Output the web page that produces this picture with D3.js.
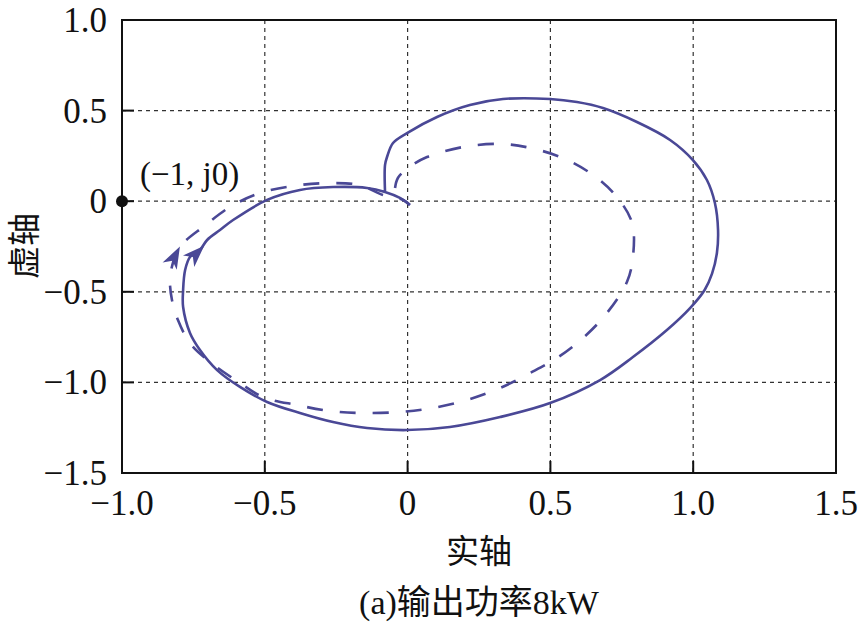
<!DOCTYPE html>
<html>
<head>
<meta charset="utf-8">
<script src="https://cdn.jsdelivr.net/npm/d3@7"></script>
<style>
  html, body { margin: 0; padding: 0; background: #fff; }
  svg { display: block; }
  .tick-label { font-family: "Times New Roman", "Liberation Serif", "Noto Sans CJK SC", serif; font-size: 35px; fill: #111; }
  .cjk { font-family: "Times New Roman", "Liberation Serif", "Noto Sans CJK SC", serif; fill: #111; }
</style>
</head>
<body>
<div id="chart"></div>
<script>
// tick values
const xTicks = [-1.0, -0.5, 0, 0.5, 1.0, 1.5];
const yTicks = [1.0, 0.5, 0, -0.5, -1.0, -1.5];
const xTickLabels = ['\u22121.0', '\u22120.5', '0', '0.5', '1.0', '1.5'];
const yTickLabels = ['1.0', '0.5', '0', '\u22120.5', '\u22121.0', '\u22121.5'];

const solidRe = [-0.079, -0.079, -0.072, -0.051, -0.002, 0.103, 0.218, 0.334, 0.499, 0.593, 0.684, 0.803, 0.919, 0.999, 1.048, 1.076, 1.087, 1.083, 1.066, 1.040, 0.989, 0.908, 0.789, 0.674, 0.499, 0.324, 0.148, -0.002, -0.142, -0.261, -0.377, -0.492, -0.587, -0.667, -0.727, -0.762, -0.786, -0.786, -0.779, -0.762, -0.727, -0.702, -0.657, -0.611, -0.492, -0.377, -0.261, -0.142, -0.079, -0.027, 0.008];
const solidIm = [0.051, 0.200, 0.244, 0.321, 0.376, 0.465, 0.531, 0.564, 0.564, 0.547, 0.514, 0.437, 0.338, 0.227, 0.117, -0.010, -0.159, -0.286, -0.400, -0.490, -0.590, -0.711, -0.860, -0.987, -1.114, -1.191, -1.246, -1.263, -1.252, -1.219, -1.169, -1.108, -1.025, -0.932, -0.821, -0.727, -0.584, -0.490, -0.380, -0.308, -0.269, -0.214, -0.159, -0.104, 0.007, 0.062, 0.078, 0.073, 0.051, 0.018, -0.021];

// dashed curve
const dashRe = [-0.044, -0.034, 0.001, 0.068, 0.194, 0.324, 0.429, 0.544, 0.649, 0.733, 0.786, 0.789, 0.768, 0.698, 0.614, 0.523, 0.429, 0.324, 0.208, 0.089, -0.027, -0.156, -0.272, -0.387, -0.506, -0.587, -0.692, -0.762, -0.804, -0.825, -0.832, -0.821, -0.807, -0.786, -0.716, -0.622, -0.517, -0.377, -0.261, -0.167, -0.086, -0.016, 0.008];
const dashIm = [0.073, 0.128, 0.183, 0.244, 0.299, 0.316, 0.294, 0.238, 0.145, 0.023, -0.120, -0.308, -0.446, -0.617, -0.755, -0.865, -0.948, -1.031, -1.097, -1.141, -1.163, -1.169, -1.158, -1.125, -1.081, -1.003, -0.887, -0.783, -0.656, -0.545, -0.435, -0.336, -0.280, -0.231, -0.142, -0.032, 0.045, 0.089, 0.100, 0.089, 0.034, 0.007, -0.021];

// arrowheads sit on these point indexes
const solidArrowIdx = 40;
const dashArrowIdx = 32;

const W = 859, H = 624;
const color = '#4a4896';

const svg = d3.select('#chart').append('svg')
  .attr('width', W).attr('height', H);

const x = d3.scaleLinear().domain([-1.0, 1.5]).range([122, 836]);
const y = d3.scaleLinear().domain([-1.5, 1.0]).range([473, 20]);

// grid
const g = svg.append('g');
g.selectAll('.vgrid').data(xTicks.slice(1, -1)).enter().append('line')
  .attr('x1', d => x(d)).attr('x2', d => x(d))
  .attr('y1', y(1.0)).attr('y2', y(-1.5))
  .attr('stroke', '#333').attr('stroke-width', 1.2).attr('stroke-dasharray', '4,4');
g.selectAll('.hgrid').data(yTicks.slice(1, -1)).enter().append('line')
  .attr('x1', x(-1.0)).attr('x2', x(1.5))
  .attr('y1', d => y(d)).attr('y2', d => y(d))
  .attr('stroke', '#333').attr('stroke-width', 1.2).attr('stroke-dasharray', '4,4');

// curves
const solid = solidRe.map((v, i) => [v, solidIm[i]]);
const dashed = dashRe.map((v, i) => [v, dashIm[i]]);
const line = d3.line().x(d => x(d[0])).y(d => y(d[1])).curve(d3.curveCatmullRom.alpha(0.5));

svg.append('path').attr('d', line(dashed))
  .attr('fill', 'none').attr('stroke', color).attr('stroke-width', 2.6)
  .attr('stroke-dasharray', '16,17');
svg.append('path').attr('d', line(solid))
  .attr('fill', 'none').attr('stroke', color).attr('stroke-width', 2.6);

function arrow(pts, i) {
  const p0 = pts[i - 1], p = pts[i], p1 = pts[i + 1];
  const ang = Math.atan2(y(p1[1]) - y(p0[1]), x(p1[0]) - x(p0[0])) * 180 / Math.PI;
  svg.append('path')
    .attr('d', 'M6,0 L-16,-8 L-10,0 L-16,8 Z')
    .attr('fill', color)
    .attr('transform', `translate(${x(p[0])},${y(p[1])}) rotate(${ang})`);
}
arrow(solid, solidArrowIdx);
arrow(dashed, dashArrowIdx);

// frame
svg.append('rect')
  .attr('x', x(-1.0)).attr('y', y(1.0))
  .attr('width', x(1.5) - x(-1.0)).attr('height', y(-1.5) - y(1.0))
  .attr('fill', 'none').attr('stroke', '#111').attr('stroke-width', 2);

// inward ticks
svg.selectAll('.xt').data(xTicks).enter().append('line')
  .attr('x1', d => x(d)).attr('x2', d => x(d))
  .attr('y1', y(-1.5)).attr('y2', y(-1.5) - 12)
  .attr('stroke', '#111').attr('stroke-width', 2);
svg.selectAll('.yt').data(yTicks).enter().append('line')
  .attr('x1', x(-1.0)).attr('x2', x(-1.0) + 12)
  .attr('y1', d => y(d)).attr('y2', d => y(d))
  .attr('stroke', '#111').attr('stroke-width', 2);

// tick labels
svg.selectAll('.xl').data(xTicks).enter().append('text')
  .attr('class', 'tick-label')
  .attr('x', d => x(d)).attr('y', 515)
  .attr('text-anchor', 'middle')
  .text((d, i) => xTickLabels[i]);
svg.selectAll('.yl').data(yTicks).enter().append('text')
  .attr('class', 'tick-label')
  .attr('x', 107).attr('y', d => y(d) + 12)
  .attr('text-anchor', 'end')
  .text((d, i) => yTickLabels[i]);

// critical point
svg.append('circle').attr('cx', x(-1)).attr('cy', y(0)).attr('r', 6).attr('fill', '#111');
svg.append('text').attr('class', 'tick-label')
  .attr('x', 140).attr('y', 185).style('font-size', '33px')
  .text('(\u22121, j0)');

// axis titles
svg.append('text').attr('class', 'cjk')
  .attr('x', 479).attr('y', 563).attr('text-anchor', 'middle')
  .style('font-size', '33px').text('实轴');
svg.append('text').attr('class', 'cjk')
  .attr('transform', 'translate(36,246) rotate(-90)').attr('text-anchor', 'middle')
  .style('font-size', '33px').text('虚轴');
svg.append('text').attr('class', 'cjk')
  .attr('x', 479).attr('y', 614).attr('text-anchor', 'middle')
  .style('font-size', '34px').text('(a)输出功率8kW');
</script>
</body>
</html>
